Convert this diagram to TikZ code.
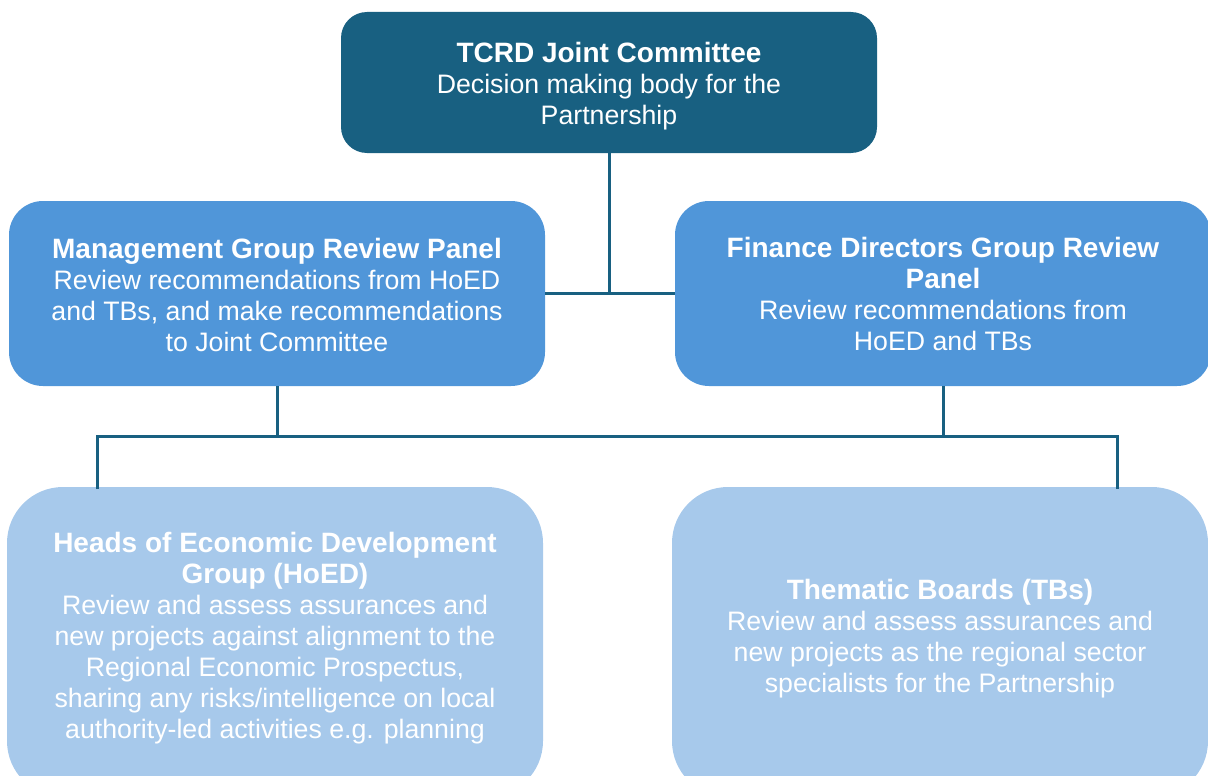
\documentclass[tikz,border=0pt]{standalone}
\usepackage{fontspec}
\setmainfont{Liberation Sans}
\definecolor{navy}{RGB}{24,96,129}
\definecolor{midblue}{RGB}{80,150,217}
\definecolor{paleblue}{RGB}{167,201,235}
% heading lines are set a little larger than the body lines
\newcommand{\hd}[1]{{\fontsize{28}{31}\selectfont\bfseries #1}}
\tikzset{
  box/.style={rounded corners=#1, inner sep=0pt},
  topbox/.style={box=26pt, fill=navy, minimum width=536pt, minimum height=141pt},
  midbox/.style={box=34pt, fill=midblue, minimum width=536pt, minimum height=185pt},
  lowbox/.style={box=56pt, fill=paleblue, minimum width=536pt, minimum height=310pt},
  caption/.style={inner sep=0pt, text=white, align=center,
    font=\fontsize{26.7}{31}\selectfont},
  link/.style={draw=navy, line width=3pt}
}
\begin{document}
\begin{tikzpicture}[x=1pt,y=-1pt]
\useasboundingbox (0,0) rectangle (1208,776);
\clip (0,0) rectangle (1208,776);

% boxes
\node[topbox] (jc) at (609,82.5) {};
\node[midbox] (mg) at (277,293.5) {};
\node[midbox] (fd) at (943,293.5) {};
\node[lowbox] (ho) at (275,642) {};
\node[lowbox] (tb) at (940,642) {};

% box texts
\node[caption] (jct) at ([yshift=-4pt]jc.center) {\hd{TCRD Joint Committee}\\Decision making body for the\\Partnership};
\node[caption] (mgt) at ([yshift=-1pt]mg.center) {\hd{Management Group Review Panel}\\Review recommendations from HoED\\and TBs, and make recommendations\\to Joint Committee};
\node[caption] (fdt) at ([yshift=0pt]fd.center) {\hd{Finance Directors Group Review}\\\hd{Panel}\\Review recommendations from\\HoED and TBs};
\node[caption] (hot) at ([yshift=4pt]ho.center) {\hd{Heads of Economic Development}\\\hd{Group (HoED)}\\Review and assess assurances and\\new projects against alignment to the\\Regional Economic Prospectus,\\sharing any risks/intelligence on local\\authority-led activities e.g. planning};
\node[caption] (tbt) at ([yshift=3pt]tb.center) {\hd{Thematic Boards (TBs)}\\Review and assess assurances and\\new projects as the regional sector\\specialists for the Partnership};

% connectors
\coordinate (hub) at (jc.south |- mg.east);
\draw[link] (jc.south) -- (hub);
\draw[link] (mg.east) -- (fd.west);
\coordinate (bar) at (0,436);
\coordinate (hoTop) at (97,489);
\coordinate (tbTop) at (1117,489);
\draw[link] (mg.south) -- (mg.south |- bar);
\draw[link] (fd.south) -- (fd.south |- bar);
\draw[link] (hoTop) -- (hoTop |- bar) -- (tbTop |- bar) -- (tbTop);
\end{tikzpicture}
\end{document}
